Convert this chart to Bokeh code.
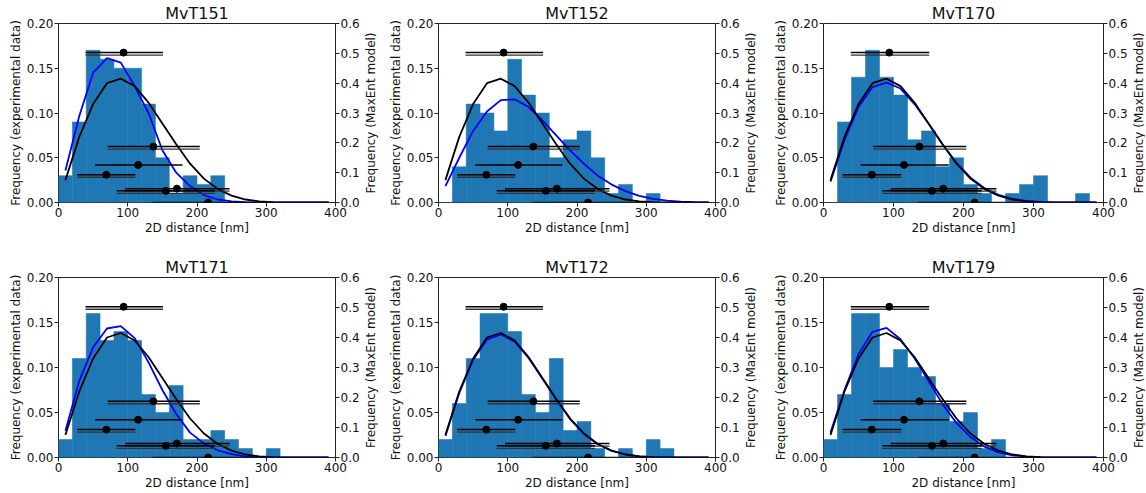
import math
import numpy as np
from bokeh.plotting import figure
from bokeh.models import Range1d, LinearAxis, NumeralTickFormatter, FixedTicker
from bokeh.layouts import column, row
from bokeh.embed import file_html
from bokeh.resources import INLINE

# ---------------- data ----------------
titles = ["MvT151", "MvT152", "MvT170", "MvT171", "MvT172", "MvT179"]
bin_width = 20  # nm, histogram bins start at 0 nm

hist_151 = [0.03, 0.09, 0.17, 0.16, 0.15, 0.15, 0.11, 0.05, 0.01, 0.03, 0.02, 0.03]
hist_152 = [0.0, 0.04, 0.11, 0.10, 0.08, 0.16, 0.12, 0.10, 0.05, 0.07, 0.08, 0.05,
            0.01, 0.02, 0.0, 0.01]
hist_170 = [0.0, 0.09, 0.14, 0.17, 0.14, 0.12, 0.07, 0.08, 0.04, 0.05, 0.02, 0.01,
            0.0, 0.01, 0.02, 0.03, 0.0, 0.0, 0.01]
hist_171 = [0.02, 0.11, 0.16, 0.13, 0.14, 0.13, 0.07, 0.05, 0.08, 0.02, 0.02, 0.03,
            0.02, 0.01, 0.0, 0.01]
hist_172 = [0.02, 0.06, 0.11, 0.16, 0.16, 0.14, 0.07, 0.05, 0.11, 0.03, 0.04, 0.01,
            0.0, 0.01, 0.0, 0.02, 0.01]
hist_179 = [0.02, 0.07, 0.16, 0.16, 0.10, 0.12, 0.10, 0.09, 0.06, 0.04, 0.05, 0.01, 0.02]

curve_x = [10, 30, 50, 70, 90, 110, 130, 150, 170, 190,
           210, 230, 250, 270, 290, 310, 330, 350, 370, 390]
# black: common model curve (right axis)
model_black = [0.075, 0.22, 0.33, 0.40, 0.415, 0.39, 0.335, 0.265, 0.195, 0.13,
               0.08, 0.045, 0.023, 0.01, 0.004, 0.0015, 0.0005, 0.0002, 0.0001, 0.0]
# blue: per-dataset MaxEnt model (right axis)
blue_151 = [0.107, 0.29, 0.435, 0.484, 0.469, 0.39, 0.30, 0.175, 0.10, 0.055,
            0.025, 0.01, 0.004, 0.001, 0.0, 0.0, 0.0, 0.0, 0.0, 0.0]
blue_152 = [0.055, 0.15, 0.24, 0.305, 0.343, 0.346, 0.32, 0.275, 0.225, 0.175,
            0.13, 0.09, 0.06, 0.038, 0.022, 0.012, 0.006, 0.003, 0.001, 0.0]
blue_170 = [0.07, 0.21, 0.32, 0.387, 0.402, 0.382, 0.33, 0.265, 0.195, 0.133,
            0.083, 0.048, 0.026, 0.012, 0.005, 0.002, 0.0007, 0.0002, 0.0, 0.0]
blue_171 = [0.089, 0.255, 0.367, 0.43, 0.438, 0.398, 0.317, 0.225, 0.145, 0.083,
            0.047, 0.024, 0.011, 0.004, 0.001, 0.0, 0.0, 0.0, 0.0, 0.0]
blue_172 = [0.072, 0.215, 0.325, 0.393, 0.41, 0.386, 0.332, 0.263, 0.193, 0.128,
            0.079, 0.044, 0.022, 0.01, 0.004, 0.0015, 0.0005, 0.0002, 0.0, 0.0]
blue_179 = [0.083, 0.225, 0.344, 0.419, 0.432, 0.394, 0.331, 0.256, 0.178, 0.115,
            0.068, 0.036, 0.017, 0.007, 0.003, 0.001, 0.0, 0.0, 0.0, 0.0]

# reference distances (left axis): centre, height, lower and upper extent
ref_center = [94, 137, 115, 69, 171, 155, 216]
ref_y = [0.1675, 0.0625, 0.042, 0.031, 0.0155, 0.013, 0.0]
ref_lo = [39, 71, 53, 27, 96, 84, 136]
ref_hi = [151, 204, 179, 111, 247, 226, 300]
ref_double = [1, 1, 0, 1, 1, 1, 0]

hists = [hist_151, hist_152, hist_170, hist_171, hist_172, hist_179]
blues = [blue_151, blue_152, blue_170, blue_171, blue_172, blue_179]

FONT = "DejaVu Sans"
BAR = "#1f77b4"
RIGHT_LABEL = "Frequency (MaxEnt model)"

# column geometry: (main width, min_border_left, min_border_right, label strip width)
cols = [(364, 58, 29, 21), (359, 53, 29, 21), (367, 58, 29, 13)]
rows_geo = [(240, 23, 38), (252, 37, 35)]  # (height, top, bottom)
LABEL_CENTER = 6  # px from the strip's left edge


def style_axis(ax):
    ax.axis_line_color = None
    ax.major_tick_out = 4
    ax.major_tick_in = 0
    ax.minor_tick_out = 0
    ax.minor_tick_in = 0
    ax.major_tick_line_color = "#222222"
    ax.major_label_text_font = FONT
    ax.major_label_text_font_size = "12px"
    ax.major_label_text_color = "#111111"
    ax.major_label_standoff = 1
    ax.axis_label_text_font = FONT
    ax.axis_label_text_font_size = "12px"
    ax.axis_label_text_font_style = "normal"
    ax.axis_label_text_color = "#111111"
    ax.axis_label_standoff = 1


def make_label_strip(h, bt, bb, sw):
    q = figure(width=sw, height=h, x_range=Range1d(0, sw), y_range=Range1d(0, 1),
               output_backend="svg", toolbar_location=None,
               x_axis_location=None, y_axis_location=None,
               min_border_left=0, min_border_right=0, min_border_top=bt,
               min_border_bottom=bb)
    q.outline_line_color = None
    q.xgrid.visible = False
    q.ygrid.visible = False
    q.text(x=[LABEL_CENTER], y=[0.5], text=[RIGHT_LABEL], angle=math.pi / 2,
           text_align="center", text_baseline="middle", text_font_size="12px",
           text_color="#111111", text_font={"value": FONT})
    return q


def make_panel(i):
    r, c = divmod(i, 3)
    w, bl, br, sw = cols[c]
    h, bt, bb = rows_geo[r]
    p = figure(width=w, height=h, x_range=Range1d(0, 400), y_range=Range1d(0, 0.2),
               output_backend="svg", toolbar_location=None, title=titles[i],
               min_border_left=bl, min_border_right=br, min_border_top=bt,
               min_border_bottom=bb)
    p.extra_y_ranges = {"model": Range1d(0, 0.6)}
    p.title.text_font = FONT
    p.title.text_font_size = "16px"
    p.title.text_font_style = "normal"
    p.title.align = "center"
    p.title.standoff = 2
    p.title.text_color = "#111111"
    p.xgrid.visible = False
    p.ygrid.visible = False
    p.outline_line_color = "#222222"
    p.outline_line_width = 1
    p.background_fill_color = "white"
    p.border_fill_color = "white"

    vals = hists[i]
    edges = np.arange(len(vals)) * bin_width
    p.quad(left=edges, right=edges + bin_width, bottom=0, top=vals,
           fill_color=BAR, line_color=BAR, line_width=0.5)

    p.line(curve_x, blues[i], y_range_name="model", line_color="#0000ff", line_width=1.8)
    p.line(curve_x, model_black, y_range_name="model", line_color="black", line_width=1.8)

    # reference error bars (doubled lines)
    yc = np.array(ref_y)
    dbl = np.array(ref_double) == 1
    p.segment(x0=np.array(ref_lo)[dbl], x1=np.array(ref_hi)[dbl], y0=yc[dbl] - 0.0028,
              y1=yc[dbl] - 0.0028, line_color="#333333", line_width=1.3)
    p.segment(x0=ref_lo, x1=ref_hi, y0=ref_y, y1=ref_y, line_color="black", line_width=1.5)
    p.scatter(ref_center, ref_y, size=7, color="black")

    p.xaxis.ticker = FixedTicker(ticks=[0, 100, 200, 300, 400])
    p.xaxis.axis_label = "2D distance [nm]"
    p.yaxis.ticker = FixedTicker(ticks=[0, 0.05, 0.1, 0.15, 0.2])
    p.yaxis.formatter = NumeralTickFormatter(format="0.00")
    p.yaxis.axis_label = "Frequency (experimental data)"
    rax = LinearAxis(y_range_name="model",
                     ticker=FixedTicker(ticks=[0, 0.1, 0.2, 0.3, 0.4, 0.5, 0.6]),
                     formatter=NumeralTickFormatter(format="0.0"))
    p.add_layout(rax, "right")
    for ax in [p.xaxis[0], p.yaxis[0], rax]:
        style_axis(ax)

    strip = make_label_strip(h, bt, bb, sw)
    return [p, strip]


items = [make_panel(i) for i in range(6)]
row1 = row(*(items[0] + items[1] + items[2]), spacing=0)
row2 = row(*(items[3] + items[4] + items[5]), spacing=0)
layout = column(row1, row2, spacing=0)

open("out.html", "w").write(file_html(layout, INLINE))
